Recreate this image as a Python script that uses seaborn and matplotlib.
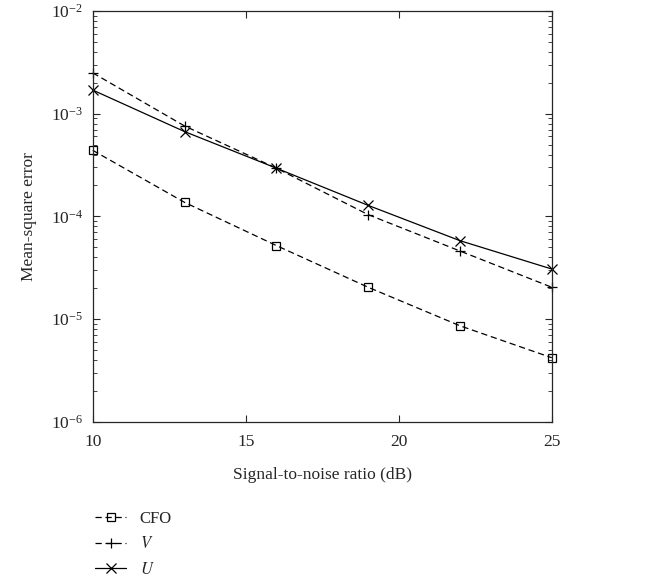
import pandas as pd
import matplotlib.pyplot as plt
import seaborn as sns
from matplotlib.ticker import LogLocator, NullFormatter

snr = [10, 13, 16, 19, 22, 25]
mse_cfo = [4.4e-4, 1.37e-4, 5.2e-5, 2.04e-5, 8.6e-6, 4.2e-6]
mse_v = [2.5e-3, 7.6e-4, 2.95e-4, 1.04e-4, 4.6e-5, 2.04e-5]
mse_u = [1.7e-3, 6.7e-4, 2.95e-4, 1.28e-4, 5.8e-5, 3.07e-5]
labels = ['CFO', '$V$', '$U$']

sns.set_style('ticks')
plt.rcParams['font.family'] = ['Liberation Serif', 'DejaVu Serif']
plt.rcParams['mathtext.fontset'] = 'stix'
plt.rcParams['xtick.direction'] = 'in'
plt.rcParams['ytick.direction'] = 'in'

fig = plt.figure(figsize=(6.53, 5.82), dpi=100)
ax = fig.add_axes([0.142, 0.2754, 0.703, 0.7056])

series = [(mse_cfo, (0, (5, 3)), 's', 5.5),
          (mse_v, (0, (5, 3)), '+', 7),
          (mse_u, '-', 'x', 7)]
for (vals, ls, mk, ms), lab in zip(series, labels):
    sns.lineplot(x=snr, y=vals, ax=ax, color='black', linewidth=0.9,
                 linestyle=ls, marker=mk, markersize=ms,
                 markerfacecolor='none', markeredgecolor='black',
                 markeredgewidth=0.9, label=lab, legend=False, clip_on=False)

ax.set_yscale('log')
ax.set_xlim(10, 25)
ax.set_ylim(1e-6, 1e-2)
ax.set_xticks([10, 15, 20, 25])
ax.yaxis.set_major_locator(LogLocator(base=10, numticks=10))
ax.yaxis.set_minor_locator(LogLocator(base=10, subs=range(2, 10), numticks=20))
ax.yaxis.set_minor_formatter(NullFormatter())
ax.tick_params(which='both', top=True, right=True, labelsize=12.5, pad=7)
ax.tick_params(axis='x', pad=9)
ax.tick_params(which='major', length=5, width=0.8)
ax.tick_params(which='minor', length=3, width=0.6)
for s in ax.spines.values():
    s.set_linewidth(0.9)
ax.set_xlabel('Signal-to-noise ratio (dB)', fontsize=12.5, labelpad=12)
ax.set_ylabel('Mean-square error', fontsize=12.5, labelpad=10)

h, l = ax.get_legend_handles_labels()
fig.legend(h, l, loc='upper left', bbox_to_anchor=(0.135, 0.133), frameon=False,
           fontsize=12, handlelength=1.9, handletextpad=0.8, labelspacing=0.55,
           borderaxespad=0)

fig.savefig('out.png', dpi=100)
